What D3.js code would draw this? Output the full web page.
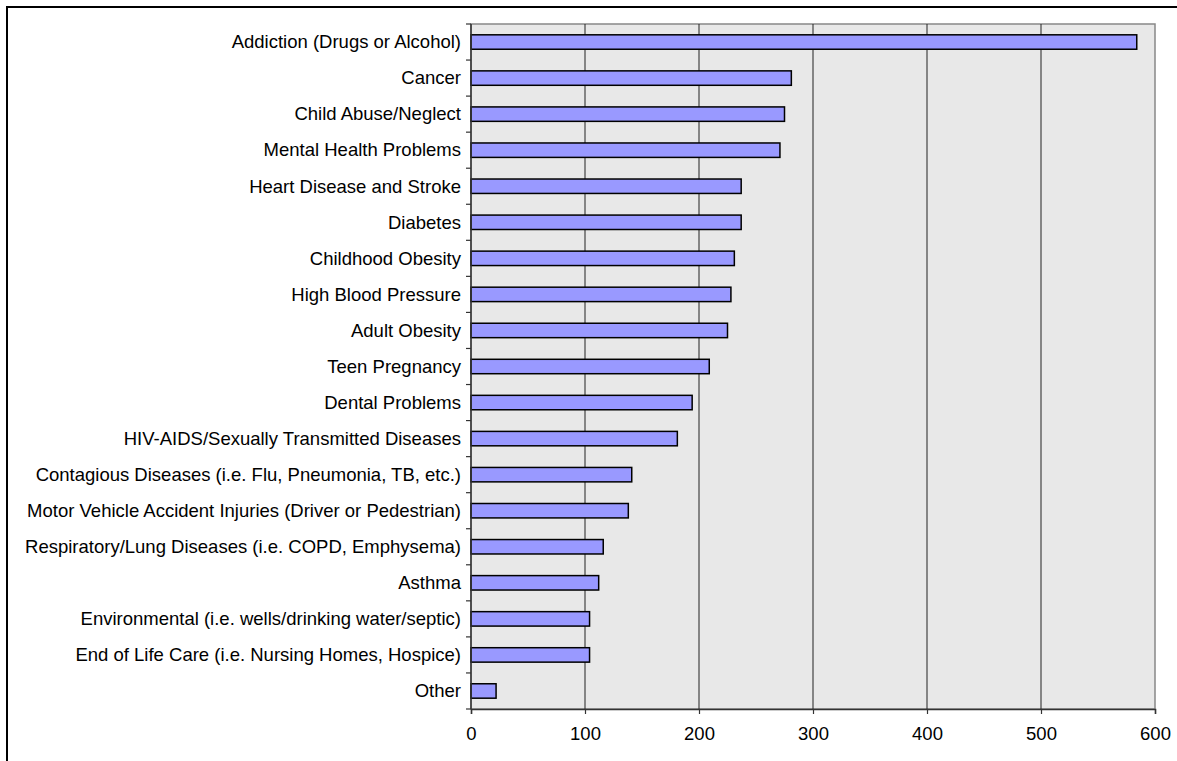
<!DOCTYPE html>
<html>
<head>
<meta charset="utf-8">
<script src="https://cdn.jsdelivr.net/npm/d3@7/dist/d3.min.js"></script>
<style>
  html, body { margin: 0; padding: 0; background: #fff; }
  svg { display: block; font-family: "Liberation Sans", Arial, sans-serif; }
</style>
</head>
<body>
<svg id="chart" width="1177" height="761"></svg>
<script>
// Health issue categories, top to bottom
const categories = [
  "Addiction (Drugs or Alcohol)",
  "Cancer",
  "Child Abuse/Neglect",
  "Mental Health Problems",
  "Heart Disease and Stroke",
  "Diabetes",
  "Childhood Obesity",
  "High Blood Pressure",
  "Adult Obesity",
  "Teen Pregnancy",
  "Dental Problems",
  "HIV-AIDS/Sexually Transmitted Diseases",
  "Contagious Diseases (i.e. Flu, Pneumonia, TB, etc.)",
  "Motor Vehicle Accident Injuries (Driver or Pedestrian)",
  "Respiratory/Lung Diseases (i.e. COPD, Emphysema)",
  "Asthma",
  "Environmental (i.e. wells/drinking water/septic)",
  "End of Life Care (i.e. Nursing Homes, Hospice)",
  "Other"
];

// Number of responses per category
const responses = [584, 281, 275, 271, 237, 237, 231, 228, 225, 209, 194, 181, 141, 138, 116, 112, 104, 104, 22];

// Value axis ticks
const xTicks = [0, 100, 200, 300, 400, 500, 600];

const FONT = 18.5;
const svg = d3.select("#chart");

// Outer frame
svg.append("rect")
  .attr("x", 7).attr("y", 7)
  .attr("width", 1200).attr("height", 800)
  .attr("fill", "none").attr("stroke", "#000").attr("stroke-width", 2);

const plot = { left: 471, right: 1155, top: 24, bottom: 709 };

const x = d3.scaleLinear().domain([0, 600]).range([plot.left, plot.right]);
const y = d3.scaleBand().domain(categories).range([plot.top, plot.bottom]).paddingInner(0.6).paddingOuter(0.3);
const band = d3.scaleBand().domain(categories).range([plot.top, plot.bottom]);

// Plot background
svg.append("rect")
  .attr("x", plot.left).attr("y", plot.top)
  .attr("width", plot.right - plot.left).attr("height", plot.bottom - plot.top)
  .attr("fill", "#e8e8e8").attr("stroke", "#888").attr("stroke-width", 1.5);

// Vertical gridlines
svg.append("g")
  .selectAll("line")
  .data(xTicks.slice(1, -1))
  .join("line")
  .attr("x1", d => x(d)).attr("x2", d => x(d))
  .attr("y1", plot.top).attr("y2", plot.bottom)
  .attr("stroke", "#222").attr("stroke-width", 1);

// Bars
svg.append("g")
  .selectAll("rect")
  .data(categories)
  .join("rect")
  .attr("x", x(0))
  .attr("y", d => y(d))
  .attr("width", (d, i) => x(responses[i]) - x(0))
  .attr("height", y.bandwidth())
  .attr("fill", "#9999ff")
  .attr("stroke", "#000")
  .attr("stroke-width", 1.5);

// Category axis: ticks at band boundaries
const yAxisG = svg.append("g");
const boundaries = categories.map(c => band(c)).concat([plot.bottom]);
yAxisG.selectAll("line.tick")
  .data(boundaries)
  .join("line")
  .attr("class", "tick")
  .attr("x1", plot.left - 5).attr("x2", plot.left)
  .attr("y1", d => d).attr("y2", d => d)
  .attr("stroke", "#333").attr("stroke-width", 1.2);
yAxisG.append("line")
  .attr("x1", plot.left).attr("x2", plot.left)
  .attr("y1", plot.top).attr("y2", plot.bottom)
  .attr("stroke", "#333").attr("stroke-width", 1.5);
yAxisG.selectAll("text")
  .data(categories)
  .join("text")
  .attr("x", plot.left - 10)
  .attr("y", d => band(d) + band.bandwidth() / 2)
  .attr("dy", "0.34em")
  .attr("text-anchor", "end")
  .attr("font-size", FONT)
  .attr("fill", "#000")
  .text(d => d);

// Value axis
const xAxis = d3.axisBottom(x).tickValues(xTicks).tickSize(5).tickPadding(13);
const xAxisG = svg.append("g")
  .attr("transform", `translate(0,${plot.bottom})`)
  .call(xAxis);
xAxisG.select(".domain").attr("stroke", "#333").attr("stroke-width", 1.5);
xAxisG.selectAll(".tick line").attr("stroke", "#333").attr("stroke-width", 1.2);
xAxisG.selectAll(".tick text")
  .attr("font-size", FONT)
  .attr("font-family", "'Liberation Sans', Arial, sans-serif")
  .attr("fill", "#000");
</script>
</body>
</html>
